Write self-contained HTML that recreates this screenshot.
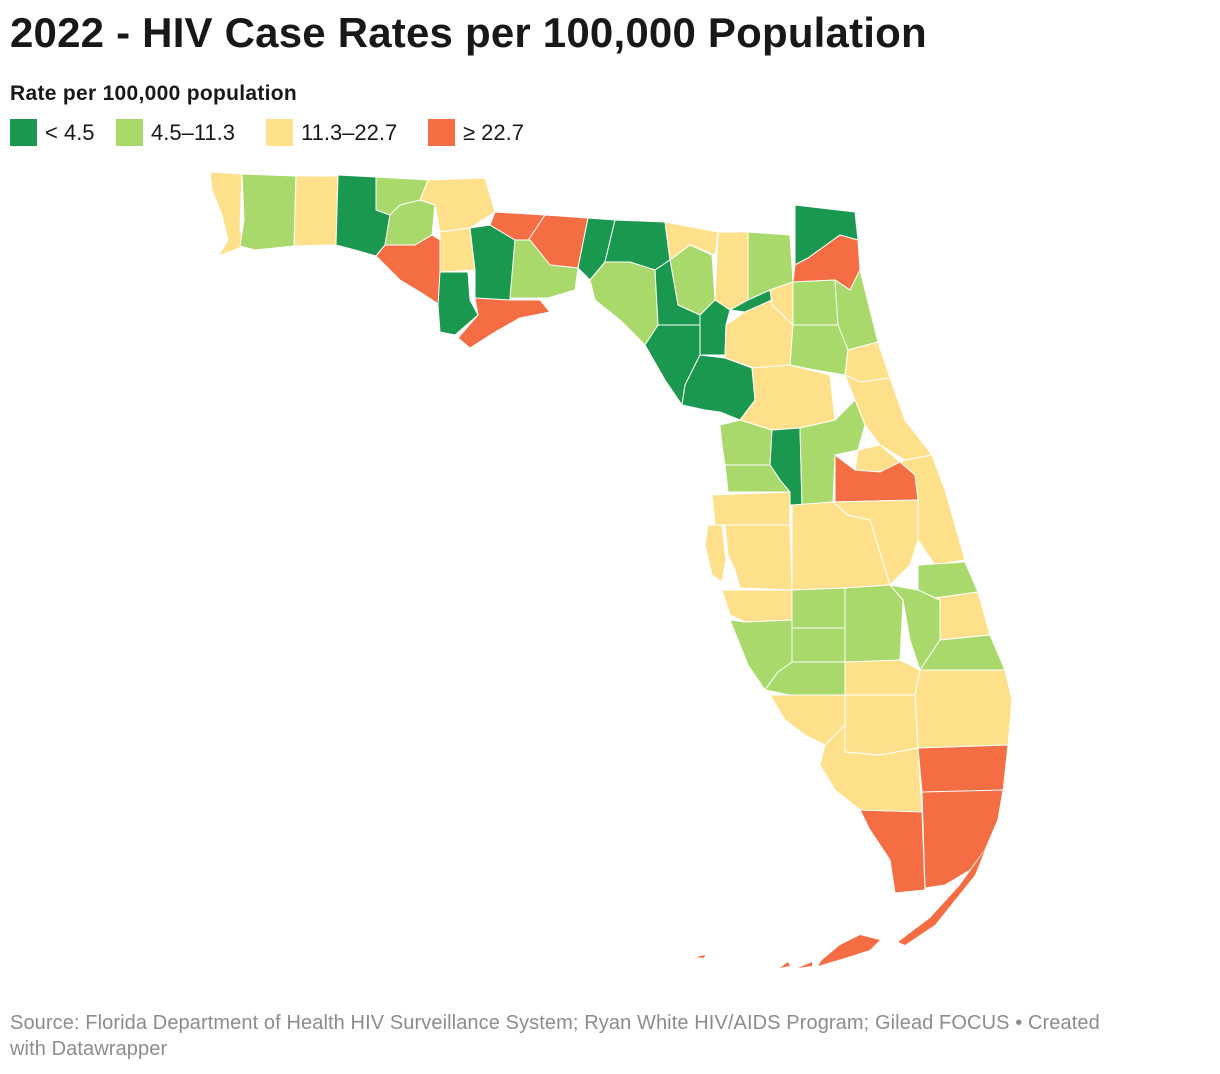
<!DOCTYPE html>
<html><head><meta charset="utf-8">
<style>
body{margin:0;background:#fff;width:1220px;height:1074px;overflow:hidden;font-family:"Liberation Sans",Roboto,sans-serif;color:#181818}
h1{position:absolute;left:10px;top:9px;margin:0;font-size:42px;font-weight:bold;letter-spacing:0.2px;white-space:nowrap}
#lt{position:absolute;left:10px;top:82px;font-size:21px;font-weight:bold;letter-spacing:0.3px}
#legend{position:absolute;left:10px;top:119px;font-size:22px}
.li{position:absolute;top:0;display:flex;align-items:center;white-space:nowrap}
.sw{width:27px;height:27px;margin-right:8px}
#src{position:absolute;left:10px;top:1010px;width:1120px;font-size:20px;color:#8c8c8c;line-height:26px;letter-spacing:0.1px}
svg{position:absolute;left:0;top:0}
</style></head><body>
<h1>2022 - HIV Case Rates per 100,000 Population</h1>
<div id="lt">Rate per 100,000 population</div>
<div id="legend">
 <div class="li" style="left:0"><div class="sw" style="background:#1b9850"></div>&lt; 4.5</div>
 <div class="li" style="left:106px"><div class="sw" style="background:#a8d96a"></div>4.5–11.3</div>
 <div class="li" style="left:256px"><div class="sw" style="background:#fee08b"></div>11.3–22.7</div>
 <div class="li" style="left:418px"><div class="sw" style="background:#f46d43"></div>≥ 22.7</div>
</div>
<svg id="map" width="1220" height="1074"></svg>
<div id="src">Source: Florida Department of Health HIV Surveillance System; Ryan White HIV/AIDS Program; Gilead FOCUS • Created with Datawrapper</div>
<script>
const counties=["Escambia","Santa Rosa","Okaloosa","Walton","Holmes","Washington","Jackson","Bay","Calhoun","Gulf","Liberty","Gadsden","Leon","Franklin","Wakulla","Jefferson","Madison","Taylor","Hamilton","Suwannee","Lafayette","Dixie","Columbia","Baker","Nassau","Duval","Union","Gilchrist","Bradford","Clay","St. Johns","Alachua","Putnam","Flagler","Levy","Marion","Volusia","Citrus","Sumter","Lake","Seminole","Orange","Brevard","Hernando","Pasco","Pinellas","Hillsborough","Polk","Osceola","Indian River","Manatee","Hardee","Highlands","Okeechobee","St. Lucie","Martin","Sarasota","DeSoto","Charlotte","Glades","Palm Beach","Lee","Hendry","Collier","Broward","Miami-Dade","Monroe"];
const rates=[18,8,15,3,7,6,14,28,13,3,2,30,32,25,9,3,3,7,15,8,3,3,16,7,3,35,2,3,12,8,9,19,10,14,3,17,14,8,3,10,19,33,15,10,14,20,21,18,19,10,16,9,9,10,17,9,10,9,10,14,20,14,14,13,36,38,30];
const thresholds=[4.5,11.3,22.7];
const colors=["#1b9850","#a8d96a","#fee08b","#f46d43"];
const shapes={
"Escambia":[[210,172],[242,174],[240,230],[245,246],[218,256],[228,240],[222,215],[212,190]],
"Santa Rosa":[[242,174],[296,176],[294,246],[255,250],[240,246],[244,220]],
"Okaloosa":[[296,176],[338,176],[336,245],[294,246]],
"Walton":[[338,175],[376,177],[376,210],[390,215],[385,245],[376,256],[355,250],[336,245]],
"Holmes":[[376,177],[428,180],[420,200],[400,205],[390,215],[376,210]],
"Washington":[[390,215],[400,205],[420,200],[435,205],[432,235],[415,245],[385,245]],
"Jackson":[[428,180],[485,178],[495,212],[470,228],[440,232],[435,205],[420,200]],
"Bay":[[376,256],[385,245],[415,245],[432,235],[440,240],[440,305],[420,292],[400,280]],
"Calhoun":[[440,232],[470,228],[475,270],[440,272]],
"Gulf":[[440,272],[468,272],[470,300],[478,315],[455,335],[440,332],[438,305]],
"Liberty":[[470,228],[490,225],[515,240],[510,300],[475,298],[475,270]],
"Gadsden":[[495,212],[545,215],[530,240],[515,240],[490,225]],
"Leon":[[545,215],[588,218],[578,268],[550,265],[525,245]],
"Franklin":[[475,298],[510,300],[540,300],[550,312],[520,318],[495,332],[470,348],[458,338],[478,315]],
"Wakulla":[[515,240],[530,240],[550,265],[578,268],[575,290],[548,298],[510,298]],
"Jefferson":[[588,218],[615,220],[605,262],[590,280],[578,268]],
"Madison":[[615,220],[665,222],[670,260],[655,270],[630,262],[605,262]],
"Taylor":[[590,280],[605,262],[630,262],[655,270],[658,325],[645,345],[620,320],[595,300]],
"Hamilton":[[665,222],[718,232],[715,255],[690,245],[670,260]],
"Suwannee":[[670,260],[690,245],[712,255],[715,300],[700,315],[678,305]],
"Lafayette":[[655,270],[670,260],[678,305],[700,315],[700,325],[658,325]],
"Dixie":[[658,325],[700,325],[700,355],[685,385],[682,405],[665,380],[645,345]],
"Columbia":[[718,232],[748,232],[748,300],[730,310],[715,300]],
"Baker":[[748,232],[790,235],[793,282],[770,290],[748,300]],
"Nassau":[[795,205],[855,212],[858,240],[840,235],[808,258],[795,265]],
"Duval":[[795,265],[808,258],[840,235],[858,240],[860,270],[850,290],[835,280],[793,282]],
"Union":[[730,310],[748,300],[770,290],[772,300],[745,312]],
"Gilchrist":[[700,315],[715,300],[730,310],[726,325],[725,355],[700,355]],
"Bradford":[[770,290],[793,282],[793,325],[772,305]],
"Clay":[[793,282],[835,280],[838,325],[793,325]],
"St. Johns":[[835,280],[850,290],[860,270],[878,342],[848,350],[838,325]],
"Alachua":[[726,325],[745,312],[772,300],[772,305],[793,325],[790,365],[760,370],[725,358]],
"Putnam":[[793,325],[838,325],[848,350],[845,375],[815,370],[790,365]],
"Flagler":[[848,350],[878,342],[890,378],[860,382],[845,375]],
"Levy":[[700,355],[725,358],[752,368],[755,400],[740,420],[720,412],[705,410],[682,405],[685,385]],
"Marion":[[752,368],[790,365],[830,375],[835,420],[800,428],[772,430],[740,420],[755,400]],
"Volusia":[[845,375],[860,382],[890,378],[905,420],[932,455],[905,460],[880,445],[865,425],[855,400]],
"Citrus":[[720,425],[740,420],[772,430],[770,465],[725,465],[722,445]],
"Sumter":[[772,430],[800,428],[802,505],[790,505],[780,480],[770,465]],
"Lake":[[800,428],[835,420],[855,400],[865,425],[858,450],[835,455],[833,502],[802,505]],
"Seminole":[[858,450],[880,445],[900,462],[880,472],[855,470]],
"Orange":[[835,455],[855,470],[880,472],[900,462],[915,475],[918,500],[835,502]],
"Brevard":[[905,460],[932,455],[945,490],[965,560],[935,565],[918,540],[918,500],[915,475],[900,462]],
"Hernando":[[725,465],[770,465],[780,480],[790,492],[728,492]],
"Pasco":[[712,495],[790,492],[790,525],[715,525]],
"Pinellas":[[708,525],[722,525],[726,560],[722,582],[712,575],[705,545]],
"Hillsborough":[[725,525],[790,525],[792,590],[740,588],[735,570],[728,555]],
"Polk":[[792,505],[833,502],[848,515],[870,520],[890,585],[845,588],[792,590]],
"Osceola":[[833,502],[918,500],[918,540],[910,565],[890,585],[870,520],[848,515]],
"Indian River":[[918,565],[965,562],[978,592],[935,598],[918,590]],
"Manatee":[[722,590],[792,590],[792,620],[745,622],[730,615]],
"Hardee":[[792,590],[845,588],[845,628],[792,628]],
"Highlands":[[845,588],[890,585],[903,600],[900,660],[870,662],[845,662]],
"Okeechobee":[[890,585],[918,590],[940,600],[940,640],[920,670],[910,640],[903,600]],
"St. Lucie":[[935,598],[978,592],[990,635],[940,640],[940,600]],
"Martin":[[940,640],[990,635],[1005,670],[920,670]],
"Sarasota":[[730,620],[745,622],[792,620],[792,665],[778,672],[765,690],[748,665]],
"DeSoto":[[792,628],[845,628],[845,662],[792,662]],
"Charlotte":[[765,690],[778,672],[792,662],[845,662],[845,695],[790,695]],
"Glades":[[845,662],[900,660],[920,670],[915,695],[845,695]],
"Palm Beach":[[920,670],[1005,670],[1012,700],[1008,745],[918,748],[915,695]],
"Lee":[[770,695],[845,695],[845,725],[825,745],[805,735],[785,720]],
"Hendry":[[845,695],[915,695],[918,748],[880,755],[845,752]],
"Collier":[[825,745],[845,725],[845,752],[880,755],[918,748],[922,812],[880,815],[860,810],[835,790],[820,765]],
"Broward":[[918,748],[1008,745],[1003,792],[922,792]],
"Miami-Dade":[[922,792],[1003,790],[998,820],[985,850],[970,870],[945,885],[925,888]],
"Monroe":[[860,810],[922,812],[925,890],[895,893],[890,860],[870,830]]
};
const svg=document.getElementById('map');
const NS='http://www.w3.org/2000/svg';
function colorFor(v){let i=0;while(i<thresholds.length&&v>=thresholds[i])i++;return colors[i];}
counties.forEach((c,k)=>{
  const p=document.createElementNS(NS,'polygon');
  p.setAttribute('points',shapes[c].map(q=>q.join(',')).join(' '));
  p.setAttribute('fill',colorFor(rates[k]));
  p.setAttribute('stroke','#fff');
  p.setAttribute('stroke-width','1');
  
  
  svg.appendChild(p);
});
const keys=document.createElementNS(NS,'path');
keys.setAttribute('d','M985,850 L975,875 L955,900 L935,925 L905,945 L898,942 L930,918 L960,885 Z M880,940 L860,935 L840,945 L822,960 L818,966 L845,958 L870,950 Z M812,962 L798,968 L812,966 Z M788,962 L780,968 L790,966 Z M705,955 L696,957 L704,958 Z');
keys.setAttribute('fill',colorFor(rates[counties.indexOf("Monroe")]));


svg.appendChild(keys);
</script>
</body></html>
